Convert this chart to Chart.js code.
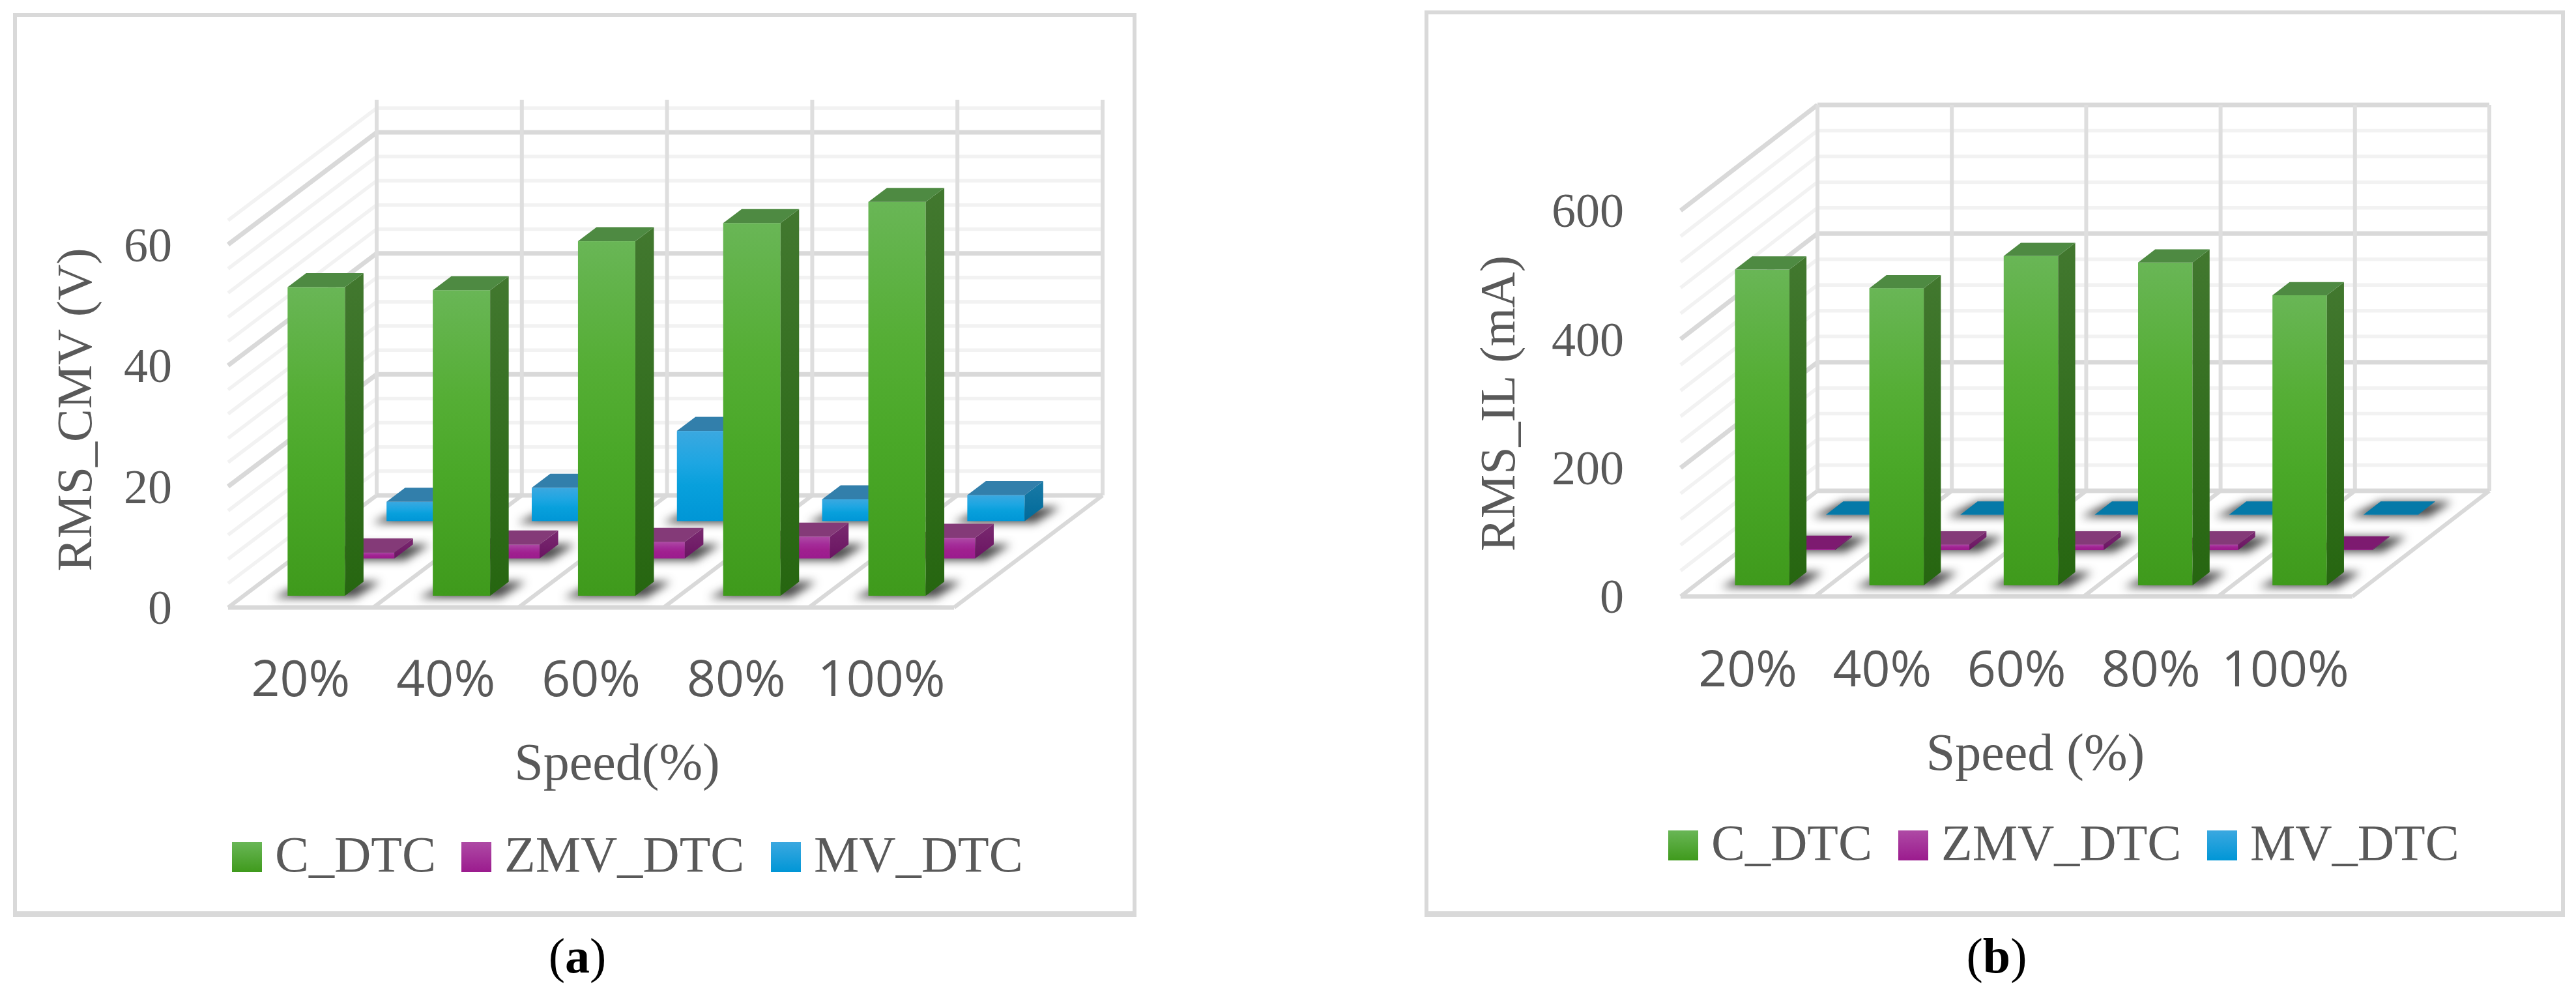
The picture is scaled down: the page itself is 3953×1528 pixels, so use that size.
<!DOCTYPE html>
<html>
<head>
<meta charset="utf-8">
<title>RMS charts</title>
<script src="https://cdn.jsdelivr.net/npm/chart.js@4"></script>
<style>
  html, body { margin: 0; background: #fff; }
  body { position: relative; width: 3953px; height: 1528px; overflow: hidden; }
  .panel { position: absolute; box-sizing: border-box; border: 6px solid #d9d9d9; border-bottom-width: 9px; background: #fff; }
  canvas { position: absolute; }
  .cap { position: absolute; top: 1423px; width: 200px; text-align: center; font: 76px "Liberation Serif", serif; color: #000; }
</style>
</head>
<body>
<div class="panel" style="left:20px;top:20px;width:1724px;height:1387px"></div>
<div class="panel" style="left:2186px;top:16px;width:1750px;height:1391px"></div>
<canvas id="chartA"></canvas>
<canvas id="chartB"></canvas>
<div class="cap" style="left:786px">(<b>a</b>)</div>
<div class="cap" style="left:2964px">(<b>b</b>)</div>

<script>
const speeds = ['20%', '40%', '60%', '80%', '100%'];
const seriesNames = ['C_DTC', 'ZMV_DTC', 'MV_DTC'];

const cmvCDtc = [51, 50.5, 58.6, 61.6, 65.1];
const cmvZmvDtc = [1, 2.3, 2.75, 3.6, 3.4];
const cmvMvDtc = [3.2, 5.5, 14.9, 3.6, 4.3];
const cmvTickStep = 4;
const cmvLabelStep = 20;
const cmvMax = 65.4;

const ilCDtc = [491, 462, 512, 502, 451];
const ilZmvDtc = [2, 9, 9, 9, 1];
const ilMvDtc = [0.5, 0.5, 0.5, 0.5, 0.5];
const ilTickStep = 40;
const ilLabelStep = 200;
const ilMax = 600;

// front, top and side colours per series, same order as seriesNames
const seriesLook = [
  { front: ['#69b656', '#55ae35', '#4aa828', '#3f9a1c'], top: '#4e8a42', flat: '#4e8a42', side: ['#42782f', '#266610'] },
  { front: ['#ae4aa5', '#a42c99', '#a0208f', '#9b1b8e'], top: '#843a78', flat: '#7d1a70', side: ['#7a2a70', '#6a1462'] },
  { front: ['#3ba8e0', '#1ea6e2', '#08a0dc', '#0096d6'], top: '#327fab', flat: '#0579a8', side: ['#1a7aa6', '#006a9a'] }
];
const seriesDepth = [0.105, 0.438, 0.771];
const barDepth = 0.125;

const box3d = {
  id: 'box3d',
  afterLayout(chart, args, opts) {
    // push the x title sideways, the ticks keep their own pixels
    chart.scales.x.right += opts.titleShift * 2;
  },
  beforeDatasetsDraw(chart, args, opts) {
    const { ctx, scales: { x, y } } = chart;
    const { dx, dy } = opts;
    const left = chart.chartArea.left;
    const right = chart.chartArea.right;
    const floor = y.getPixelForValue(0);
    const top = y.getPixelForValue(y.max);
    const slot = (right - left) / speeds.length;
    ctx.save();
    ctx.lineCap = 'butt';
    const line = (x1, y1, x2, y2, color, w) => {
      ctx.strokeStyle = color;
      ctx.lineWidth = w;
      ctx.beginPath();
      ctx.moveTo(x1, y1);
      ctx.lineTo(x2, y2);
      ctx.stroke();
    };
    // minor lines first so the major ones sit over them
    const ticks = y.ticks.map(t => t.value).filter(v => v % opts.tickStep === 0);
    ticks.slice().sort((a, b) => (a % opts.labelStep === 0) - (b % opts.labelStep === 0)).forEach(v => {
      const major = v % opts.labelStep === 0;
      const py = y.getPixelForValue(v);
      const color = major ? '#d9d9d9' : '#f2f2f2';
      const w = major ? 7 : 5.5;
      if (v !== 0) {
        line(left, py, left + dx, py - dy, color, w);
        line(left + dx, py - dy, right + dx, py - dy, color, w);
      }
    });
    for (let i = 0; i <= speeds.length; i++) {
      const px = left + slot * i;
      line(px, floor, px + dx, floor - dy, '#d9d9d9', 6);
      line(px + dx, floor - dy, px + dx, top - dy, '#dedede', 6);
    }
    line(left, floor, right, floor, '#d9d9d9', 7);
    line(left + dx, floor - dy, right + dx, floor - dy, '#d9d9d9', 7);
    ctx.restore();
  },
  beforeDatasetDraw(chart, args, opts) {
    const { ctx } = chart;
    const { dx, dy } = opts;
    const look = seriesLook[args.index];
    const ox = dx * seriesDepth[args.index];
    const oy = dy * seriesDepth[args.index];
    const bx = dx * barDepth;
    const by = dy * barDepth;
    const poly = pts => {
      ctx.beginPath();
      pts.forEach((p, i) => i ? ctx.lineTo(p[0], p[1]) : ctx.moveTo(p[0], p[1]));
      ctx.closePath();
      ctx.fill();
    };
    args.meta.data.forEach(bar => {
      const p = bar.getProps(['x', 'y', 'base', 'width'], true);
      const l = p.x - p.width / 2 + ox;
      const r = p.x + p.width / 2 + ox;
      const t = p.y - oy;
      const b = p.base - oy;
      // soft shadow on the floor
      ctx.save();
      ctx.filter = 'blur(7px)';
      ctx.fillStyle = 'rgba(30,30,30,0.8)';
      poly([[l - 22, b + 3], [r + 16, b + 3], [r + bx + 26, b - by], [l + bx, b - by]]);
      ctx.restore();
      // front
      const g = ctx.createLinearGradient(0, t, 0, b);
      if (b - t > 6) {
        g.addColorStop(0, look.front[0]);
        g.addColorStop(0.35, look.front[1]);
        g.addColorStop(0.6, look.front[2]);
        g.addColorStop(1, look.front[3]);
      } else {
        g.addColorStop(0, look.front[1]);
        g.addColorStop(1, look.front[3]);
      }
      ctx.fillStyle = g;
      ctx.fillRect(l, t, r - l, b - t);
      // right side
      const s = ctx.createLinearGradient(0, t - by, 0, b);
      s.addColorStop(0, look.side[0]);
      s.addColorStop(1, look.side[1]);
      ctx.fillStyle = s;
      poly([[r, t], [r + bx, t - by], [r + bx, b - by], [r, b]]);
      // top
      ctx.fillStyle = b - t > 3 ? look.top : look.flat;
      poly([[l, t], [r, t], [r + bx, t - by], [l + bx, t - by]]);
    });
    return false;
  },
  afterDraw(chart, args, opts) {
    const { ctx } = chart;
    ctx.save();
    ctx.font = '78px "Liberation Serif", serif';
    ctx.textBaseline = 'middle';
    chart.data.datasets.forEach((ds, i) => {
      const sx = opts.legendX[i];
      const look = seriesLook[i];
      const g = ctx.createLinearGradient(0, opts.legendY - 23, 0, opts.legendY + 23);
      g.addColorStop(0, look.front[0]);
      g.addColorStop(1, look.front[3]);
      ctx.fillStyle = g;
      ctx.fillRect(sx, opts.legendY - 23, 46, 46);
      ctx.fillStyle = '#595959';
      ctx.fillText(ds.label, sx + 66, opts.legendY + 2);
    });
    ctx.restore();
  }
};

function makeChart(id, cfg) {
  const canvas = document.getElementById(id);
  canvas.width = cfg.w;
  canvas.height = cfg.h;
  canvas.style.left = cfg.x0 + 'px';
  canvas.style.top = cfg.y0 + 'px';
  const datasets = seriesNames.map((name, i) => ({
    label: name,
    data: cfg.series[i],
    backgroundColor: seriesLook[i].front[2],
    barPercentage: cfg.barPct,
    categoryPercentage: 1,
    grouped: false
  }));
  return new Chart(canvas, {
    type: 'bar',
    data: { labels: speeds, datasets },
    plugins: [box3d],
    options: {
      responsive: false,
      animation: false,
      layout: {
        padding: { left: cfg.padLeft, top: cfg.areaTop - cfg.y0, right: cfg.w - (cfg.areaRight - cfg.x0), bottom: cfg.padBottom }
      },
      plugins: {
        legend: { display: false },
        tooltip: { enabled: false },
        box3d: {
          dx: cfg.dx,
          dy: cfg.dy,
          tickStep: cfg.tickStep,
          labelStep: cfg.labelStep,
          titleShift: cfg.titleShift,
          legendX: cfg.legendX.map(v => v - cfg.x0),
          legendY: cfg.legendY - cfg.y0
        }
      },
      scales: {
        x: {
          afterFit: s => { s.height = cfg.xHeight; s.paddingLeft = 0; s.paddingRight = 0; },
          grid: { display: false },
          border: { display: false },
          ticks: { color: '#595959', padding: cfg.xTickPad, maxRotation: 0, autoSkip: false, font: { family: '"Open Sans"', size: 77 } },
          title: { display: true, text: cfg.xTitle, color: '#595959', padding: 0, font: { family: '"Liberation Serif"', size: 80 } }
        },
        y: {
          min: 0,
          max: cfg.max,
          afterFit: s => { s.width = cfg.areaLeft - cfg.x0 - cfg.padLeft; },
          grid: { display: false },
          border: { display: false },
          ticks: {
            stepSize: cfg.tickStep,
            padding: cfg.yTickPad,
            autoSkip: false,
            color: '#595959',
            // two lines with an empty first one nudge the number below its gridline
            font: { family: '"Liberation Serif"', size: 74, lineHeight: '12px' },
            callback: v => (v % cfg.labelStep === 0 ? ['', v] : '')
          },
          title: { display: true, text: cfg.yTitle, color: '#595959', padding: 0, font: { family: '"Liberation Serif"', size: 76 } }
        }
      }
    }
  });
}

makeChart('chartA', {
  x0: 20, y0: 20, w: 1724, h: 1387,
  areaLeft: 350, areaRight: 1464, areaTop: 325,
  padLeft: 54, padBottom: 184, xHeight: 291,
  xTickPad: 60, yTickPad: 78,
  dx: 228, dy: 172, barPct: 0.395,
  max: cmvMax, tickStep: cmvTickStep, labelStep: cmvLabelStep,
  series: [cmvCDtc, cmvZmvDtc, cmvMvDtc],
  xTitle: 'Speed(%)', yTitle: 'RMS_CMV (V)', titleShift: 40,
  legendX: [356, 708, 1183], legendY: 1315
});

makeChart('chartB', {
  x0: 2186, y0: 16, w: 1750, h: 1391,
  areaLeft: 2579, areaRight: 3610, areaTop: 323,
  padLeft: 72, padBottom: 199, xHeight: 293,
  xTickPad: 62, yTickPad: 79,
  dx: 210, dy: 162, barPct: 0.405,
  max: ilMax, tickStep: ilTickStep, labelStep: ilLabelStep,
  series: [ilCDtc, ilZmvDtc, ilMvDtc],
  xTitle: 'Speed (%)', yTitle: 'RMS_IL (mA)', titleShift: 29,
  legendX: [2560, 2913, 3387], legendY: 1297
});
</script>
</body>
</html>
